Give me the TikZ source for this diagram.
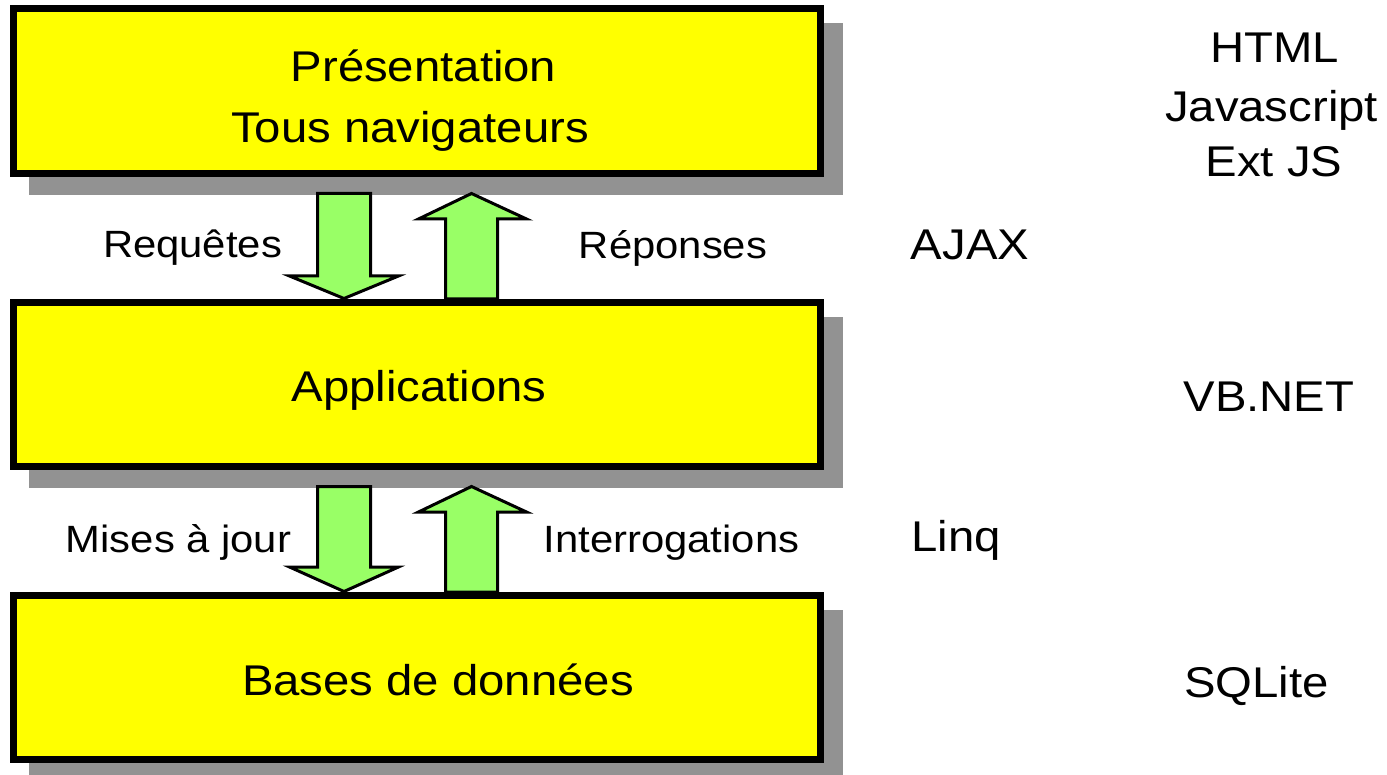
\documentclass[tikz,border=0pt]{standalone}
\usepackage{fontspec}
\setmainfont{Liberation Sans}[FakeStretch=1.1]
\usetikzlibrary{backgrounds}
\definecolor{layeryellow}{HTML}{FFFF00}
\definecolor{shadowgray}{HTML}{929292}
\definecolor{arrowgreen}{HTML}{99FF66}
\begin{document}
\begin{tikzpicture}[x=1pt,y=-1pt,
  layer/.style={draw=black, line width=7pt, fill=layeryellow, inner sep=0pt},
  shadowbox/.style={fill=shadowgray},
  blockarrow/.style={draw=black, line width=3pt, fill=arrowgreen, line join=miter},
  big/.style={font=\fontsize{43}{52}\selectfont, inner sep=0pt, anchor=base},
  small/.style={font=\fontsize{38}{46}\selectfont, inner sep=0pt, anchor=base}]
\useasboundingbox (0,0) rectangle (1387,775);

% layer boxes
\node[layer, minimum width=807pt, minimum height=164.5pt] (pres) at (417,91.25) {};
\node[layer, minimum width=807pt, minimum height=164pt] (app) at (417,384.5) {};
\node[layer, minimum width=807pt, minimum height=164pt] (db) at (417,677.5) {};

\begin{scope}[on background layer]
  \foreach \b in {pres,app,db}{
    \fill[shadowbox] ([shift={(19,18)}]\b.south west) rectangle ([shift={(19,18)}]\b.north east);
  }
  % arrows between presentation and applications
  \draw[blockarrow] (317.5,193.5) -- (370.5,193.5) -- (370.5,276) -- (398.5,276) -- (344,298.5) -- (289.5,276) -- (317.5,276) -- cycle;
  \draw[blockarrow] (471.5,193.5) -- (526.5,219) -- (497.5,219) -- (497.5,299) -- (445.5,299) -- (445.5,219) -- (418.5,219) -- cycle;
  % arrows between applications and databases
  \draw[blockarrow] (317.5,486.5) -- (370.5,486.5) -- (370.5,567) -- (398.5,567) -- (344,591.5) -- (289.5,567) -- (317.5,567) -- cycle;
  \draw[blockarrow] (471.5,486.5) -- (526.5,512) -- (497.5,512) -- (497.5,592) -- (445.5,592) -- (445.5,512) -- (418.5,512) -- cycle;
\end{scope}

% box texts
\node[big] (t1) at (423.5,82) {Présentation};
\node[big] (t2) at (410,143) {Tous navigateurs};
\node[big] (t3) at (419,402) {Applications};
\node[big] (t4) at (438,695) {Bases de données};

% arrow labels
\node[small] (l1) at (192.5,258) {Requêtes};
\node[small] (l2) at (673,259) {Réponses};
\node[small] (l3) at (178.5,552) {Mises à jour};
\node[small] (l4) at (671.5,552) {Interrogations};

% technology column
\node[big] (r1) at (1274.5,63) {HTML};
\node[big] (r2) at (1271.5,122) {Javascript};
\node[big] (r3) at (1274,177) {Ext JS};
\node[big] (r4) at (970,260) {AJAX};
\node[big] (r5) at (1269,412) {VB.NET};
\node[big] (r6) at (956,551) {Linq};
\node[big] (r7) at (1256.5,697) {SQLite};
\end{tikzpicture}
\end{document}
